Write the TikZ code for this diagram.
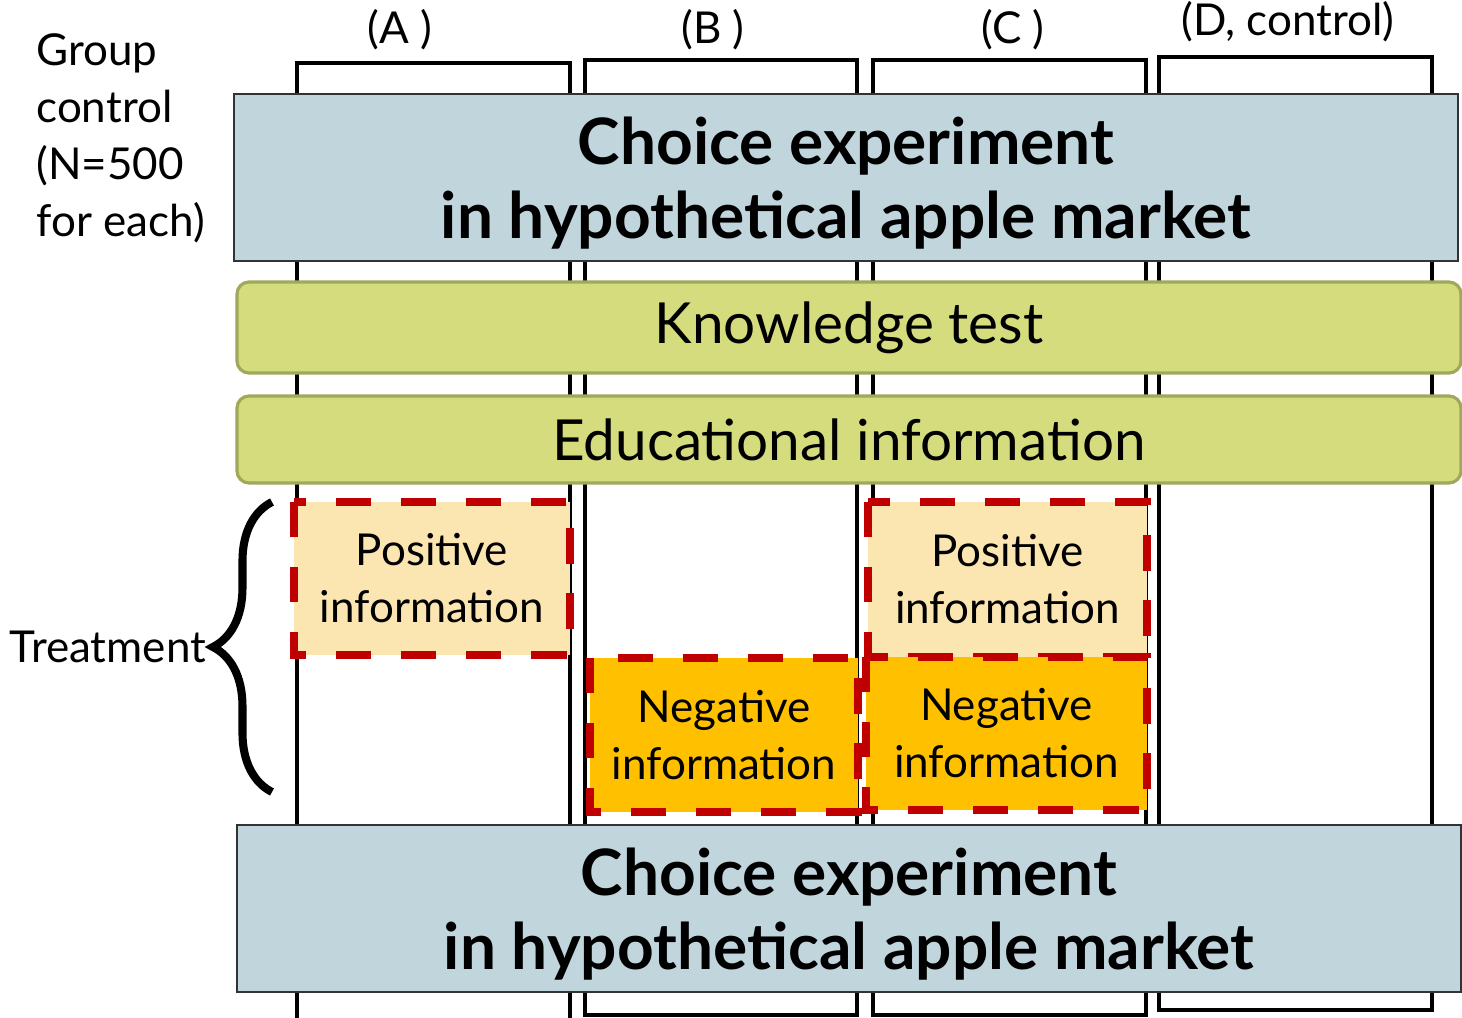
\documentclass[tikz,border=0pt]{standalone}
\usepackage{fontspec}
\setmainfont{Lato}
\usetikzlibrary{decorations.pathreplacing}

\definecolor{cebg}{RGB}{193,213,221}
\definecolor{testbg}{RGB}{212,220,126}
\definecolor{testline}{RGB}{160,168,92}
\definecolor{posbg}{RGB}{251,230,177}
\definecolor{negbg}{RGB}{255,192,0}
\definecolor{dashred}{RGB}{192,0,0}

\begin{document}
\begin{tikzpicture}[x=0.01cm, y=-0.01cm,
  big/.style={font=\fontsize{18.2}{21}\selectfont\bfseries, align=center, yshift=-0.055cm},
  mid/.style={font=\fontsize{16.1}{21}\selectfont},
  small/.style={font=\fontsize{12.5}{16.2}\selectfont, align=center},
  treat/.style={line width=2pt, draw=dashred, dash pattern=on 10pt off 8.5pt}]

  \clip (0,0) rectangle (1462,1018);

  % groups
  \draw[line width=1.1pt] (297,1030) -- (297,63) -- (570,63) -- (570,1030);
  \draw[line width=1.1pt] (585,60) rectangle (857,1015);
  \draw[line width=1.1pt] (873,60) rectangle (1146,1015);
  \draw[line width=1.1pt] (1159,57) rectangle (1432,1010);

  \node[small] (lA) at (400,30) {(A )};
  \node[small] (lB) at (713,30) {(B )};
  \node[small] (lC) at (1013,30) {(C )};
  \node[small] (lD) at (1288,22) {(D, control)};
  \node[small, align=left, anchor=north west] (grp) at (24,21) {Group\\control\\(N=500\\for each)};

  \draw[fill=cebg, draw=black!80, line width=0.6pt] (234,94) rectangle (1458,261) node[midway, big] (ce1) {Choice experiment\\in hypothetical apple market};

  \draw[fill=testbg, draw=testline, line width=0.9pt, rounded corners=0.12cm] (237,282) rectangle (1461,373) node[midway, mid] (kt) {Knowledge test};
  \draw[fill=testbg, draw=testline, line width=0.9pt, rounded corners=0.12cm] (237,396) rectangle (1461,483) node[midway, mid] (ei) {Educational information};

  \draw[fill=posbg, treat] (294,502) rectangle (570,655) node[midway, small] (posA) {Positive\\information};
  \draw[fill=negbg, treat] (590,658) rectangle (858,812) node[midway, small] (negB) {Negative\\information};
  \draw[fill=posbg, treat] (868,502) rectangle (1147,657) node[midway, small] (posC) {Positive\\information};
  \draw[fill=negbg, treat] (866,657) rectangle (1147,810) node[midway, small] (negC) {Negative\\information};

  \draw[line width=2.3pt, decorate, decoration={brace, amplitude=0.59cm}] (272,792) -- (272,502) node[midway, left=0.62cm, small, inner sep=0pt] (tr) {Treatment};

  \draw[fill=cebg, draw=black!80, line width=0.6pt] (237,825) rectangle (1461,992) node[midway, big] (ce2) {Choice experiment\\in hypothetical apple market};

\end{tikzpicture}
\end{document}
